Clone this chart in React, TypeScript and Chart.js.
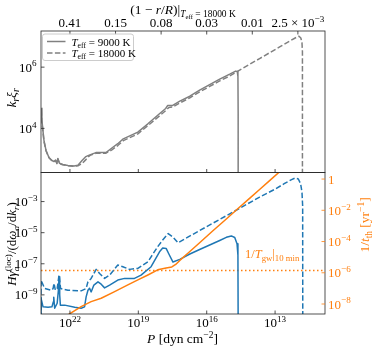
import React, { useEffect, useRef } from 'react';
import { Chart, registerables } from 'chart.js';
Chart.register(...registerables);

const FONT = '"Liberation Serif", "DejaVu Serif", serif';
const GRAY = '#808080';
const BLUE = '#1f77b4';
const ORANGE = '#ff7f0e';
const INK = '#262626';

// axis ranges (log10 of the values)
const LOGP_MIN = 10.81;
const LOGP_MAX = 23.27;
const LOGK_MIN = 2.56;
const LOGK_MAX = 7.18;
const LOGH_MIN = -10.23;
const LOGH_MAX = -1.13;
const LOGT_MIN = -8.64;
const LOGT_MAX = 0.42;

// tick positions (log10) and labels
const pTicks = [22, 19, 16, 13];
const depthTickLogP = [22, 20, 18, 16, 14, 12];
const depthTickMain = ['0.41', '0.15', '0.08', '0.03', '0.01', '2.5 × 10'];
const depthTickExp = ['', '', '', '', '', '−3'];
const kTicks = [4, 6];
const hTicks = [-9, -7, -5, -3];
const tTicks = [0, -2, -4, -6, -8];

// top panel: k_r xi_r, Teff = 9000 K (solid)
const k9000LogP = [23.26, 23.23, 23.14, 23.05, 22.92, 22.79, 22.70, 22.63, 22.57, 22.53, 22.46, 22.31, 22.09, 21.82, 21.65, 21.47, 21.30, 21.21, 20.86, 20.42, 20.16, 19.90, 19.66, 19.02, 18.58, 18.15, 17.80, 17.71, 17.49, 17.18, 16.74, 16.31, 15.87, 15.43, 14.99, 14.73, 14.66, 14.63, 14.62, 14.62];
const k9000Log = [4.66, 4.26, 3.61, 3.28, 3.05, 2.95, 2.92, 2.97, 2.86, 3.02, 2.86, 2.82, 2.79, 2.77, 2.80, 2.95, 3.08, 3.11, 3.21, 3.21, 3.36, 3.50, 3.66, 3.88, 4.15, 4.43, 4.65, 4.75, 4.75, 4.89, 5.05, 5.25, 5.43, 5.61, 5.77, 5.87, 5.86, 5.70, 4.50, 2.00];

// top panel: Teff = 18000 K (dashed)
const k18000LogP = [23.26, 23.23, 23.14, 23.05, 22.92, 22.79, 22.70, 22.63, 22.57, 22.53, 22.46, 22.31, 22.09, 21.82, 21.65, 21.47, 21.30, 21.21, 21.12, 20.86, 20.42, 20.16, 19.90, 19.66, 19.02, 18.58, 18.15, 17.80, 17.66, 17.49, 17.18, 16.74, 16.31, 15.87, 15.43, 14.99, 14.70, 14.12, 13.68, 13.24, 12.80, 12.36, 12.05, 11.95, 11.87, 11.82, 11.80, 11.80];
const k18000Log = [4.60, 4.20, 3.58, 3.27, 3.04, 2.94, 2.91, 2.95, 2.85, 3.00, 2.85, 2.81, 2.78, 2.76, 2.78, 2.85, 2.98, 3.06, 3.12, 3.19, 3.19, 3.30, 3.44, 3.60, 3.82, 4.09, 4.36, 4.58, 4.68, 4.70, 4.83, 5.00, 5.19, 5.37, 5.55, 5.71, 5.84, 6.09, 6.28, 6.47, 6.66, 6.85, 6.98, 7.01, 6.95, 6.80, 6.50, 2.00];

// bottom panel: H gamma / (d omega / dk), Teff = 9000 K (solid)
const h9000LogP = [23.27, 23.27, 23.18, 22.96, 22.79, 22.73, 22.71, 22.67, 22.56, 22.50, 22.48, 22.45, 22.42, 22.23, 21.79, 21.51, 21.36, 21.29, 21.21, 21.14, 21.07, 20.95, 20.77, 20.63, 20.48, 20.26, 19.90, 19.60, 19.17, 18.88, 18.44, 18.07, 17.93, 17.78, 17.66, 17.48, 17.18, 16.74, 16.31, 15.87, 15.43, 15.14, 14.92, 14.77, 14.67, 14.63, 14.62];
const h9000Log = [-11.0, -9.21, -9.77, -9.79, -9.77, -9.45, -9.15, -9.86, -9.54, -8.60, -7.84, -9.00, -9.66, -9.66, -9.79, -9.86, -9.77, -9.13, -8.70, -8.57, -8.81, -8.37, -8.16, -8.31, -8.55, -8.37, -8.05, -7.94, -7.94, -7.73, -7.19, -6.23, -5.99, -6.01, -6.37, -6.89, -6.72, -6.37, -6.08, -5.79, -5.50, -5.30, -5.21, -5.31, -5.71, -6.44, -11.0];

// bottom panel: Teff = 18000 K (dashed)
const h18000LogP = [23.27, 23.27, 23.11, 22.82, 22.74, 22.70, 22.64, 22.56, 22.48, 22.41, 22.09, 21.51, 21.29, 21.21, 21.07, 20.85, 20.70, 20.48, 20.26, 19.90, 19.68, 19.39, 19.02, 18.58, 18.15, 17.93, 17.69, 17.48, 17.26, 16.31, 14.99, 13.68, 13.00, 12.60, 12.30, 12.12, 11.98, 11.88, 11.82, 11.79, 11.785];
const h18000Log = [-11.0, -8.05, -8.59, -8.70, -8.60, -8.25, -8.70, -8.60, -7.73, -8.59, -8.70, -8.74, -8.59, -8.16, -7.94, -7.36, -7.62, -7.94, -7.73, -7.08, -7.19, -7.36, -7.30, -6.87, -5.90, -5.47, -5.06, -5.28, -5.65, -4.86, -3.79, -2.71, -2.20, -1.85, -1.60, -1.48, -1.55, -1.85, -2.40, -3.30, -11.0];

// bottom panel, right axis: 1/t_th [yr^-1]
const tthLogP = [22.18, 22.09, 21.51, 21.07, 20.63, 20.04, 19.46, 19.02, 18.58, 18.15, 17.78, 17.53, 17.36, 17.18, 16.74, 16.31, 15.74, 15.14, 14.65, 14.12, 13.68, 13.24, 12.80, 12.60];
const tthLog = [-8.89, -8.70, -8.17, -7.85, -7.63, -7.21, -6.78, -6.46, -6.14, -5.81, -5.70, -5.63, -5.47, -5.21, -4.64, -4.08, -3.33, -2.56, -1.92, -1.24, -0.67, -0.10, 0.47, 0.74];

// 1/T_gw at 10 min (right axis)
const tgwLog = -5.86;

type Seg = { t: string; it?: boolean; lv?: number; hold?: boolean };

function layout(ctx: CanvasRenderingContext2D, segs: Seg[], size: number) {
  return segs.map((s) => {
    let fs = size;
    let dy = 0;
    if (s.lv === 1) { fs = size * 0.7; dy = size * 0.22; }
    else if (s.lv === 2) { fs = size * 0.5; dy = size * 0.36; }
    else if (s.lv === -1) { fs = size * 0.7; dy = -size * 0.4; }
    const font = `${s.it ? 'italic ' : ''}${fs}px ${FONT}`;
    ctx.font = font;
    return { t: s.t, font, dy, w: ctx.measureText(s.t).width, hold: !!s.hold };
  });
}

function drawRich(ctx: CanvasRenderingContext2D, segs: Seg[], x: number, y: number, size: number, color: string, align: string, rot = 0) {
  ctx.save();
  ctx.translate(x, y);
  if (rot) ctx.rotate(rot);
  const parts = layout(ctx, segs, size);
  let total = 0;
  let held = 0;
  for (const p of parts) {
    if (p.hold) { held = p.w; continue; }
    total += Math.max(p.w, held);
    held = 0;
  }
  let cx = align === 'left' ? 0 : align === 'center' ? -total / 2 : -total;
  ctx.fillStyle = color;
  ctx.textAlign = 'left';
  ctx.textBaseline = 'alphabetic';
  held = 0;
  for (const p of parts) {
    ctx.font = p.font;
    ctx.fillText(p.t, cx, p.dy);
    if (p.hold) { held = p.w; continue; }
    cx += Math.max(p.w, held);
    held = 0;
  }
  ctx.restore();
}

function line(ctx: CanvasRenderingContext2D, x1: number, y1: number, x2: number, y2: number, color: string) {
  ctx.beginPath();
  ctx.moveTo(x1, y1);
  ctx.lineTo(x2, y2);
  ctx.strokeStyle = color;
  ctx.lineWidth = 0.8;
  ctx.stroke();
}

const TICK = 3.5;
const FS = 13;

function pow10Label(e: number): Seg[] {
  if (e === 0) return [{ t: '1' }];
  return [{ t: '10' }, { t: String(e).replace('-', '−'), lv: -1 }];
}

const topDecor = {
  id: 'topDecor',
  afterDraw(chart: any) {
    const ctx = chart.ctx as CanvasRenderingContext2D;
    const a = chart.chartArea;
    const xs = chart.scales.x;
    const ys = chart.scales.y;
    ctx.save();
    // frame
    ctx.strokeStyle = INK;
    ctx.lineWidth = 0.8;
    ctx.strokeRect(a.left, a.top, a.right - a.left, a.bottom - a.top);
    // bottom ticks (shared pressure axis)
    for (const e of pTicks) {
      const px = xs.getPixelForValue(Math.pow(10, e));
      line(ctx, px, a.bottom, px, a.bottom - TICK, INK);
    }
    // top ticks: depth axis
    depthTickLogP.forEach((e, i) => {
      const px = xs.getPixelForValue(Math.pow(10, e));
      line(ctx, px, a.top, px, a.top + TICK, INK);
      const segs: Seg[] = [{ t: depthTickMain[i] }];
      if (depthTickExp[i]) segs.push({ t: depthTickExp[i], lv: -1 });
      drawRich(ctx, segs, px, 27, FS, '#000', 'center');
    });
    // left ticks
    for (const e of kTicks) {
      const py = ys.getPixelForValue(Math.pow(10, e));
      line(ctx, a.left, py, a.left + TICK, py, INK);
      drawRich(ctx, pow10Label(e), a.left - 4.5, py + 4.5, FS, '#000', 'right');
    }
    // top title
    drawRich(ctx, [
      { t: '(1 − ' }, { t: 'r', it: true }, { t: '/' }, { t: 'R', it: true }, { t: ')|' },
      { t: 'T', it: true, lv: 1 }, { t: 'eff', lv: 2 }, { t: ' = 18000 K', lv: 1 },
    ], 183, 14, 13.5, '#000', 'center');
    // y label
    drawRich(ctx, [
      { t: 'k', it: true }, { t: 'r', it: true, lv: 1 }, { t: 'ξ', it: true }, { t: 'r', it: true, lv: 1 },
    ], 16, 98, 13.5, '#000', 'center', -Math.PI / 2);
    // legend
    const lx = 42.5, ly = 34, lw = 91, lh = 26.5, r = 2.5;
    ctx.beginPath();
    ctx.moveTo(lx + r, ly);
    ctx.lineTo(lx + lw - r, ly);
    ctx.quadraticCurveTo(lx + lw, ly, lx + lw, ly + r);
    ctx.lineTo(lx + lw, ly + lh - r);
    ctx.quadraticCurveTo(lx + lw, ly + lh, lx + lw - r, ly + lh);
    ctx.lineTo(lx + r, ly + lh);
    ctx.quadraticCurveTo(lx, ly + lh, lx, ly + lh - r);
    ctx.lineTo(lx, ly + r);
    ctx.quadraticCurveTo(lx, ly, lx + r, ly);
    ctx.closePath();
    ctx.fillStyle = 'rgba(255,255,255,0.8)';
    ctx.fill();
    ctx.strokeStyle = '#cccccc';
    ctx.lineWidth = 1;
    ctx.stroke();
    const rows = [
      { y: 41.5, dash: [] as number[], label: ' = 9000 K' },
      { y: 53, dash: [5.5, 2.4], label: ' = 18000 K' },
    ];
    for (const row of rows) {
      ctx.save();
      ctx.setLineDash(row.dash);
      ctx.beginPath();
      ctx.moveTo(47, row.y);
      ctx.lineTo(65.5, row.y);
      ctx.strokeStyle = GRAY;
      ctx.lineWidth = 1.5;
      ctx.stroke();
      ctx.restore();
      drawRich(ctx, [{ t: 'T', it: true }, { t: 'eff', lv: 1 }, { t: row.label }], 71.5, row.y + 4, 11, '#000', 'left');
    }
    ctx.restore();
  },
};

const bottomDecor = {
  id: 'bottomDecor',
  afterDraw(chart: any) {
    const ctx = chart.ctx as CanvasRenderingContext2D;
    const a = chart.chartArea;
    const xs = chart.scales.x;
    const ys = chart.scales.y;
    const y2 = chart.scales.y2;
    ctx.save();
    ctx.strokeStyle = INK;
    ctx.lineWidth = 0.8;
    ctx.strokeRect(a.left, a.top, a.right - a.left, a.bottom - a.top);
    for (const e of pTicks) {
      const px = xs.getPixelForValue(Math.pow(10, e));
      line(ctx, px, a.bottom, px, a.bottom - TICK, INK);
      drawRich(ctx, pow10Label(e), px, 327, FS, '#000', 'center');
    }
    for (const e of hTicks) {
      const py = ys.getPixelForValue(Math.pow(10, e));
      line(ctx, a.left, py, a.left + TICK, py, INK);
      drawRich(ctx, pow10Label(e), a.left - 3.5, py + 4.5, FS, '#000', 'right');
    }
    for (const e of tTicks) {
      const py = y2.getPixelForValue(Math.pow(10, e));
      line(ctx, a.right, py, a.right - TICK, py, ORANGE);
      drawRich(ctx, pow10Label(e), a.right + 3, py + 4.5, FS, ORANGE, 'left');
    }
    // x label
    drawRich(ctx, [{ t: 'P', it: true }, { t: ' [dyn cm' }, { t: '−2', lv: -1 }, { t: ']' }], 182.5, 343, 13.5, '#000', 'center');
    // left y label
    drawRich(ctx, [
      { t: 'H', it: true }, { t: 'γ', it: true }, { t: 'a', it: true, lv: 1, hold: true }, { t: '(loc)', lv: -1 },
      { t: '/(d' }, { t: 'ω', it: true }, { t: 'a', it: true, lv: 1 }, { t: '/d' }, { t: 'k', it: true }, { t: 'r', it: true, lv: 1 }, { t: ')' },
    ], 16, 244, 13, '#000', 'center', -Math.PI / 2);
    // right y label
    drawRich(ctx, [
      { t: '1/' }, { t: 't', it: true }, { t: 'th', lv: 1 }, { t: ' [yr' }, { t: '−1', lv: -1 }, { t: ']' },
    ], 369, 225, 13.5, ORANGE, 'center', -Math.PI / 2);
    // annotation
    drawRich(ctx, [
      { t: '1/' }, { t: 'T', it: true }, { t: 'gw', lv: 1 }, { t: '|' }, { t: '10 min', lv: 1 },
    ], 245, 258, 12.5, ORANGE, 'left');
    ctx.restore();
  },
};

function pts(logP: number[], logV: number[]) {
  return logP.map((p, i) => ({ x: Math.pow(10, p), y: Math.pow(10, logV[i]) }));
}

function ds(data: any[], color: string, dash: number[], yAxisID: string, order: number) {
  return {
    data,
    borderColor: color,
    backgroundColor: color,
    borderWidth: 1.5,
    borderDash: dash,
    pointRadius: 0,
    fill: false,
    tension: 0,
    yAxisID,
    order,
    borderJoinStyle: 'round' as const,
  };
}

const xScale = {
  type: 'logarithmic' as const,
  display: false,
  reverse: true,
  bounds: 'data' as const,
  min: Math.pow(10, LOGP_MIN),
  max: Math.pow(10, LOGP_MAX),
};

export default function App() {
  const topRef = useRef<HTMLCanvasElement>(null);
  const botRef = useRef<HTMLCanvasElement>(null);

  useEffect(() => {
    const top = new Chart(topRef.current!, {
      type: 'line',
      data: {
        datasets: [
          ds(pts(k9000LogP, k9000Log), GRAY, [], 'y', 1),
          ds(pts(k18000LogP, k18000Log), GRAY, [5.5, 2.4], 'y', 2),
        ],
      },
      options: {
        responsive: false,
        animation: false,
        events: [],
        layout: { padding: { left: 41, right: 49, top: 31, bottom: 177.5 } },
        scales: {
          x: xScale,
          y: { type: 'logarithmic', display: false, bounds: 'data', min: Math.pow(10, LOGK_MIN), max: Math.pow(10, LOGK_MAX) },
        },
        plugins: { legend: { display: false }, tooltip: { enabled: false } },
      } as any,
      plugins: [topDecor],
    });
    const bot = new Chart(botRef.current!, {
      type: 'line',
      data: {
        datasets: [
          ds(pts(h9000LogP, h9000Log), BLUE, [], 'y', 2),
          ds(pts(h18000LogP, h18000Log), BLUE, [5.5, 2.4], 'y', 3),
          ds(pts(tthLogP, tthLog), ORANGE, [], 'y2', 1),
          ds(pts([LOGP_MAX, LOGP_MIN], [tgwLog, tgwLog]), ORANGE, [1.5, 2.5], 'y2', 4),
        ],
      },
      options: {
        responsive: false,
        animation: false,
        events: [],
        layout: { padding: { left: 41, right: 49, top: 172.5, bottom: 36 } },
        scales: {
          x: xScale,
          y: { type: 'logarithmic', display: false, bounds: 'data', min: Math.pow(10, LOGH_MIN), max: Math.pow(10, LOGH_MAX) },
          y2: { type: 'logarithmic', display: false, bounds: 'data', position: 'right', min: Math.pow(10, LOGT_MIN), max: Math.pow(10, LOGT_MAX) },
        },
        plugins: { legend: { display: false }, tooltip: { enabled: false } },
      } as any,
      plugins: [bottomDecor],
    });
    return () => {
      top.destroy();
      bot.destroy();
    };
  }, []);

  return (
    <div style={{ position: 'fixed', left: 0, top: 0, width: 374, height: 350, background: '#fff' }}>
      <canvas ref={topRef} width={374} height={350} style={{ position: 'absolute', left: 0, top: 0 }} />
      <canvas ref={botRef} width={374} height={350} style={{ position: 'absolute', left: 0, top: 0 }} />
    </div>
  );
}
